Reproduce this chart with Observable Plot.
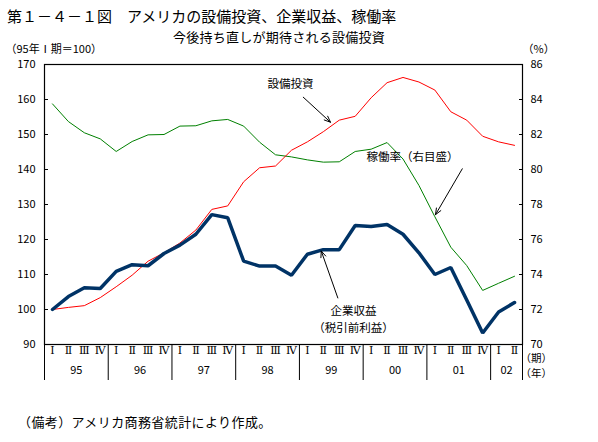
<!DOCTYPE html>
<html><head><meta charset="utf-8">
<script src="https://cdn.jsdelivr.net/npm/d3@7"></script>
<script src="https://cdn.jsdelivr.net/npm/@observablehq/plot@0.6"></script>
<style>
body{margin:0;background:#fff;font-family:"Noto Sans CJK JP",sans-serif;color:#000}
#wrap{position:relative;width:598px;height:442px;overflow:hidden;background:#fff}
#chart{position:absolute;left:0;top:0}
.t{position:absolute;white-space:nowrap}
#title{left:7px;top:6px;font-size:15px;line-height:20px}
#sub{left:173px;top:28px;font-size:13px;line-height:18px;letter-spacing:0.25px}
#note{left:18px;top:413px;font-size:13px;line-height:18px;letter-spacing:0.4px}
</style></head><body>
<div id="wrap">
<div id="chart"></div>
<div class="t" id="title">第１－４－１図　アメリカの設備投資、企業収益、稼働率</div>
<div class="t" id="sub">今後持ち直しが期待される設備投資</div>
<div class="t" id="note">（備考）アメリカ商務省統計により作成。</div>
</div>
<script>
// ---- data ----
const quarterNames = ["Ⅰ","Ⅱ","Ⅲ","Ⅳ"];
const years = ["95","96","97","98","99","00","01","02"];
const quartersPerYear = [4,4,4,4,4,4,4,2];
// 設備投資 (95年Ⅰ期=100)
const investment = [100,100.6,101.1,103.4,106.5,109.8,113.8,116.2,119.0,122.7,128.6,129.6,136.5,140.5,141.0,145.5,147.9,150.8,154.1,155.2,160.5,164.8,166.3,165.0,162.7,156.5,154.1,149.5,147.9,146.9];
// 企業収益（税引前利益）(95年Ⅰ期=100)
const profits = [100,103.7,106.2,106.0,110.9,112.8,112.5,116.0,118.4,121.5,127.1,126.2,113.8,112.4,112.4,109.8,115.8,117.1,117.1,124.0,123.7,124.3,121.5,116.2,110.0,112.0,102.7,93.3,99.3,102.0];
// 稼働率 (%) 右目盛
const utilization = [83.75,82.74,82.1,81.75,81.03,81.6,81.98,82.0,82.48,82.5,82.78,82.86,82.48,81.56,80.84,80.72,80.55,80.42,80.44,81.03,81.16,81.54,80.6,79.09,77.3,75.56,74.51,73.09,73.5,73.9];
const leftTicks = [90,100,110,120,130,140,150,160,170];
const rightTicks = [70,72,74,76,78,80,82,84,86];

// annotations (data coordinates: quarter index, left-scale value)
const labels = [
  {text:"設備投資", x:14.94, y:164.3, anchor:"middle"},
  {text:"稼働率（右目盛）", x:22.6, y:143.5, anchor:"start"},
  {text:"企業収益", x:18.9, y:99.6, anchor:"middle"},
  {text:"（税引前利益）", x:18.9, y:94.7, anchor:"middle"}
];
const arrows = [
  {x1:15.74, y1:160.66, x2:17.45, y2:153.5},
  {x1:25.72, y1:140.2, x2:24.04, y2:127.1},
  {x1:17.91, y1:103.3, x2:16.87, y2:116.7}
];

// ---- derived ----
const toLeft = v => 90 + (v - 70) * 5;      // right scale -> left scale
const toRight = d => 70 + (d - 90) / 5;
const n = investment.length;
const idx = d3.range(n);
const periods = idx.map(i => ({i, q: quarterNames[i % 4]}));
let start = 0;
const yearRows = years.map((y, k) => {
  const r = {year: y, center: start + (quartersPerYear[k] - 1) / 2, from: start};
  start += quartersPerYear[k];
  return r;
});
const boundaries = yearRows.map(r => r.from - 0.5).concat([n - 0.5]);
const F = '"Noto Sans CJK JP", sans-serif';

const chart = Plot.plot({
  width: 598, height: 442,
  marginTop: 64, marginBottom: 98, marginLeft: 44, marginRight: 76,
  x: {domain: [-0.5, n - 0.5], axis: null},
  y: {domain: [90, 170], axis: null},
  style: {fontFamily: F, fontSize: "11px", color: "black", background: "transparent"},
  marks: [
    Plot.frame({stroke: "black", strokeWidth: 1.2}),
    Plot.axisY(leftTicks, {anchor: "left", tickSize: -4, tickPadding: 13, label: null, fontSize: 11}),
    Plot.axisY(rightTicks.map(toLeft), {anchor: "right", tickSize: -4, tickPadding: 12, tickFormat: toRight, label: null, fontSize: 11}),
    Plot.axisX(boundaries, {anchor: "bottom", tickSize: 36, tickFormat: () => "", label: null}),
    Plot.text(periods, {x: "i", text: "q", frameAnchor: "bottom", dy: 9, fontSize: 11, fontFamily: '"DejaVu Serif", "Noto Sans CJK JP", serif'}),
    Plot.text(yearRows, {x: "center", text: "year", frameAnchor: "bottom", dy: 29, fontSize: 11}),
    Plot.text(["（95年Ⅰ期＝100）"], {frameAnchor: "top-left", dx: -39, dy: -19, textAnchor: "start", fontSize: 11}),
    Plot.text(["（%）"], {frameAnchor: "top-right", dx: 0, dy: -19, textAnchor: "start", fontSize: 11}),
    Plot.text(["（期）"], {frameAnchor: "bottom-right", dx: -2, dy: 17, textAnchor: "start", fontSize: 10.5}),
    Plot.text(["（年）"], {frameAnchor: "bottom-right", dx: -2, dy: 32, textAnchor: "start", fontSize: 10.5}),
    Plot.line(idx, {x: i => i, y: i => toLeft(utilization[i]), stroke: "#008000", strokeWidth: 1}),
    Plot.line(idx, {x: i => i, y: i => investment[i], stroke: "#ff0000", strokeWidth: 1}),
    Plot.line(idx, {x: i => i, y: i => profits[i], stroke: "#003366", strokeWidth: 3.5, strokeLinejoin: "miter"}),
    Plot.arrow(arrows, {x1: "x1", y1: "y1", x2: "x2", y2: "y2", stroke: "black", strokeWidth: 1, headLength: 10, headAngle: 45}),
    Plot.text(labels, {x: "x", y: "y", text: "text", textAnchor: d => d.anchor, fontSize: 11.5})
  ]
});
document.getElementById("chart").appendChild(chart);
</script>
</body></html>
